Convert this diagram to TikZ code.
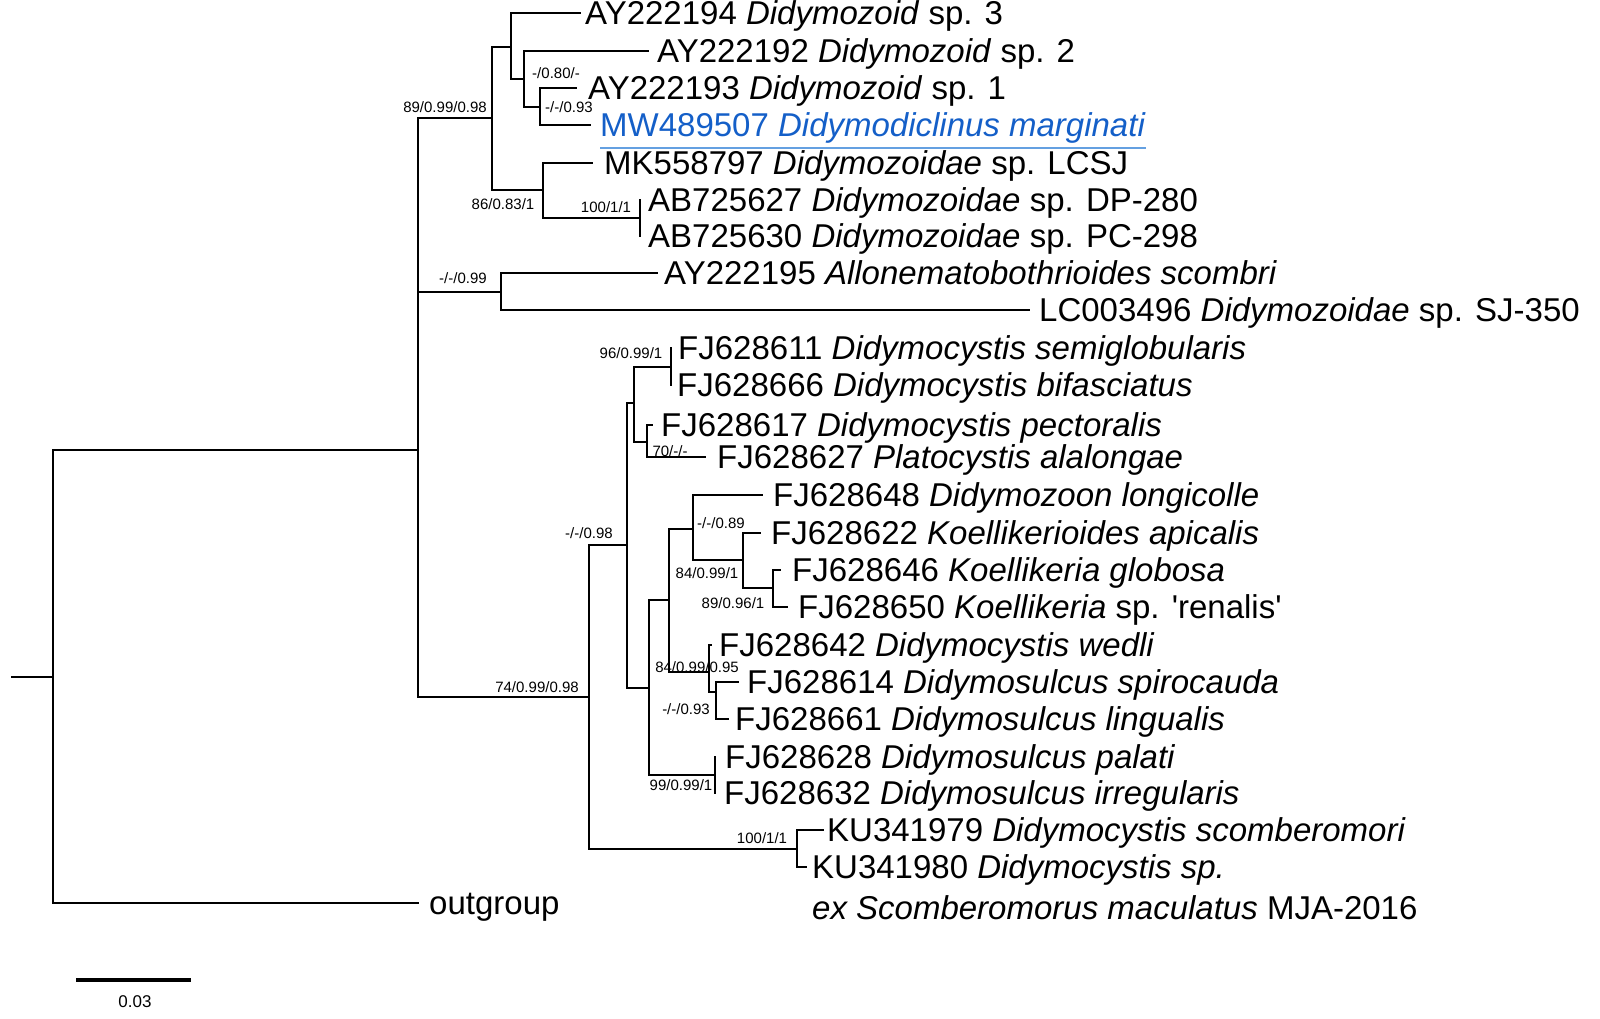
\documentclass[tikz,border=0pt]{standalone}
\usepackage{fontspec}
\setmainfont{Liberation Sans}[Ligatures=TeXOff]
\definecolor{mwblue}{RGB}{20,95,200}
\definecolor{ulblue}{RGB}{100,160,225}
\newcommand\leaffont{\fontsize{33}{40}\selectfont}
\newcommand\supfont{\fontsize{15}{18}\selectfont}
\begin{document}
\begin{tikzpicture}[x=1pt,y=-1pt,
  br/.style={line width=2pt, line cap=rect},
  leaf/.style={anchor=base west, inner sep=0pt, yshift=-11.8pt, font=\leaffont},
  bsup/.style={anchor=center, inner sep=0pt, font=\supfont}]
\useasboundingbox (0,0) rectangle (1600,1018);

% ---------- coordinates: internal nodes ----------
\coordinate (stub) at (12,677);
\coordinate (R0) at (53,677);
\coordinate (IN) at (418,450);
\coordinate (A) at (492,118);
\coordinate (B) at (511,47);
\coordinate (C) at (524,79);
\coordinate (Cc) at (540,107);
\coordinate (D) at (543,190);
\coordinate (E) at (640,218);
\coordinate (S) at (501,292);
\coordinate (F) at (589,697);
\coordinate (G) at (627,545);
\coordinate (I) at (634,403);
\coordinate (J) at (671,367);
\coordinate (K) at (647,442);
\coordinate (H) at (649,688);
\coordinate (L) at (669,600);
\coordinate (O) at (693,529);
\coordinate (P) at (743,560);
\coordinate (Q) at (773,588);
\coordinate (N) at (709,672);
\coordinate (Rn) at (716,692);
\coordinate (M) at (715,775);
\coordinate (KU) at (797,849);

% ---------- coordinates: tips ----------
\coordinate (og) at (418,903);
\coordinate (t1) at (580,13);
\coordinate (t2) at (648,51);
\coordinate (t3) at (576,88);
\coordinate (t4) at (590,125);
\coordinate (t5) at (592,163);
\coordinate (t6) at (640,200);
\coordinate (t7) at (640,236);
\coordinate (t8) at (657,273);
\coordinate (t9) at (1029,310);
\coordinate (t10) at (671,348);
\coordinate (t11) at (671,385);
\coordinate (t12) at (652,425);
\coordinate (t13) at (705,457);
\coordinate (t14) at (762,495);
\coordinate (t15) at (760,533);
\coordinate (t16) at (780,570);
\coordinate (t17) at (787,607);
\coordinate (t18) at (711,645);
\coordinate (t19) at (738,682);
\coordinate (t20) at (728,719);
\coordinate (t21) at (715,757);
\coordinate (t22) at (715,793);
\coordinate (t23) at (823,830);
\coordinate (t24) at (806,867);

% ---------- branches ----------
\draw[br] (stub) -- (R0);
\draw[br] (R0 |- IN) -- (R0 |- og);
\draw[br] (R0 |- IN) -- (IN);
\draw[br] (R0 |- og) -- (og);

\draw[br] (IN |- A) -- (IN |- F);
\draw[br] (IN |- A) -- (A);
\draw[br] (IN |- S) -- (S);
\draw[br] (IN |- F) -- (F);

\draw[br] (A |- B) -- (A |- D);
\draw[br] (A |- B) -- (B);
\draw[br] (A |- D) -- (D);

\draw[br] (B |- t1) -- (B |- C);
\draw[br] (B |- t1) -- (t1);
\draw[br] (B |- C) -- (C);

\draw[br] (C |- t2) -- (C |- Cc);
\draw[br] (C |- t2) -- (t2);
\draw[br] (C |- Cc) -- (Cc);

\draw[br] (Cc |- t3) -- (Cc |- t4);
\draw[br] (Cc |- t3) -- (t3);
\draw[br] (Cc |- t4) -- (t4);

\draw[br] (D |- t5) -- (D |- E);
\draw[br] (D |- t5) -- (t5);
\draw[br] (D |- E) -- (E);

\draw[br] (E |- t6) -- (E |- t7);

\draw[br] (S |- t8) -- (S |- t9);
\draw[br] (S |- t8) -- (t8);
\draw[br] (S |- t9) -- (t9);

\draw[br] (F |- G) -- (F |- KU);
\draw[br] (F |- G) -- (G);
\draw[br] (F |- KU) -- (KU);

\draw[br] (G |- I) -- (G |- H);
\draw[br] (G |- I) -- (I);
\draw[br] (G |- H) -- (H);

\draw[br] (I |- J) -- (I |- K);
\draw[br] (I |- J) -- (J);
\draw[br] (I |- K) -- (K);

\draw[br] (J |- t10) -- (J |- t11);

\draw[br] (K |- t12) -- (K |- t13);
\draw[br] (K |- t12) -- (t12);
\draw[br] (K |- t13) -- (t13);

\draw[br] (H |- L) -- (H |- M);
\draw[br] (H |- L) -- (L);
\draw[br] (H |- M) -- (M);

\draw[br] (L |- O) -- (L |- N);
\draw[br] (L |- O) -- (O);
\draw[br] (L |- N) -- (N);

\draw[br] (O |- t14) -- (O |- P);
\draw[br] (O |- t14) -- (t14);
\draw[br] (O |- P) -- (P);

\draw[br] (P |- t15) -- (P |- Q);
\draw[br] (P |- t15) -- (t15);
\draw[br] (P |- Q) -- (Q);

\draw[br] (Q |- t16) -- (Q |- t17);
\draw[br] (Q |- t16) -- (t16);
\draw[br] (Q |- t17) -- (t17);

\draw[br] (N |- t18) -- (N |- Rn);
\draw[br] (N |- t18) -- (t18);
\draw[br] (N |- Rn) -- (Rn);

\draw[br] (Rn |- t19) -- (Rn |- t20);
\draw[br] (Rn |- t19) -- (t19);
\draw[br] (Rn |- t20) -- (t20);

\draw[br] (M |- t21) -- (M |- t22);

\draw[br] (KU |- t23) -- (KU |- t24);
\draw[br] (KU |- t23) -- (t23);
\draw[br] (KU |- t24) -- (t24);

% ---------- leaf labels ----------
\node[leaf] (n1) at (585,13) {AY222194 \textit{Didymozoid} sp. 3};
\node[leaf] (n2) at (657,51) {AY222192 \textit{Didymozoid} sp. 2};
\node[leaf] (n3) at (588,88) {AY222193 \textit{Didymozoid} sp. 1};
\node[leaf, text=mwblue] (n4) at (600,125) {MW489507 \textit{Didymodiclinus marginati}};
\draw[ulblue, line width=2pt] ([yshift=-4pt]n4.south west) -- ([yshift=-4pt]n4.south east);
\node[leaf] (n5) at (604,163) {MK558797 \textit{Didymozoidae} sp. LCSJ};
\node[leaf] (n6) at (648,200) {AB725627 \textit{Didymozoidae} sp. DP-280};
\node[leaf] (n7) at (648,236) {AB725630 \textit{Didymozoidae} sp. PC-298};
\node[leaf] (n8) at (664,273) {AY222195 \textit{Allonematobothrioides scombri}};
\node[leaf] (n9) at (1039,310) {LC003496 \textit{Didymozoidae} sp. SJ-350};
\node[leaf] (n10) at (678,348) {FJ628611 \textit{Didymocystis semiglobularis}};
\node[leaf] (n11) at (677,385) {FJ628666 \textit{Didymocystis bifasciatus}};
\node[leaf] (n12) at (661,425) {FJ628617 \textit{Didymocystis pectoralis}};
\node[leaf] (n13) at (717,457) {FJ628627 \textit{Platocystis alalongae}};
\node[leaf] (n14) at (773,495) {FJ628648 \textit{Didymozoon longicolle}};
\node[leaf] (n15) at (771,533) {FJ628622 \textit{Koellikerioides apicalis}};
\node[leaf] (n16) at (792,570) {FJ628646 \textit{Koellikeria globosa}};
\node[leaf] (n17) at (798,607) {FJ628650 \textit{Koellikeria} sp. 'renalis'};
\node[leaf] (n18) at (719,645) {FJ628642 \textit{Didymocystis wedli}};
\node[leaf] (n19) at (747,682) {FJ628614 \textit{Didymosulcus spirocauda}};
\node[leaf] (n20) at (735,719) {FJ628661 \textit{Didymosulcus lingualis}};
\node[leaf] (n21) at (725,757) {FJ628628 \textit{Didymosulcus palati}};
\node[leaf] (n22) at (724,793) {FJ628632 \textit{Didymosulcus irregularis}};
\node[leaf] (n23) at (827,830) {KU341979 \textit{Didymocystis scomberomori}};
\node[leaf] (n24) at (812,867) {KU341980 \textit{Didymocystis sp.}};
\node[leaf] (n25) at (812,908) {\textit{ex Scomberomorus maculatus} MJA-2016};
\node[leaf] (nog) at (429,903) {outgroup};

% ---------- support values ----------
\node[bsup] (s1) at (445,107) {89/0.99/0.98};
\node[bsup] (s2) at (556,73) {-/0.80/-};
\node[bsup] (s3) at (569,107) {-/-/0.93};
\node[bsup] (s4) at (503,204) {86/0.83/1};
\node[bsup] (s5) at (606,207) {100/1/1};
\node[bsup] (s6) at (463,278) {-/-/0.99};
\node[bsup] (s7) at (631,353) {96/0.99/1};
\node[bsup] (s8) at (670,451) {70/-/-};
\node[bsup] (s9) at (589,533) {-/-/0.98};
\node[bsup] (s10) at (721,523) {-/-/0.89};
\node[bsup] (s11) at (707,573) {84/0.99/1};
\node[bsup] (s12) at (733,603) {89/0.96/1};
\node[bsup] (s13) at (697,667) {84/0.99/0.95};
\node[bsup] (s14) at (686,709) {-/-/0.93};
\node[bsup] (s15) at (537,687) {74/0.99/0.98};
\node[bsup] (s16) at (681,785) {99/0.99/1};
\node[bsup] (s17) at (762,838) {100/1/1};

% ---------- scale bar ----------
\coordinate (sb1) at (76,980);
\coordinate (sb2) at (191,980);
\draw[line width=4pt] (sb1) -- (sb2);
\node[inner sep=0pt, font=\fontsize{17}{20}\selectfont] (sbl) at (135,1002) {0.03};
\end{tikzpicture}
\end{document}
